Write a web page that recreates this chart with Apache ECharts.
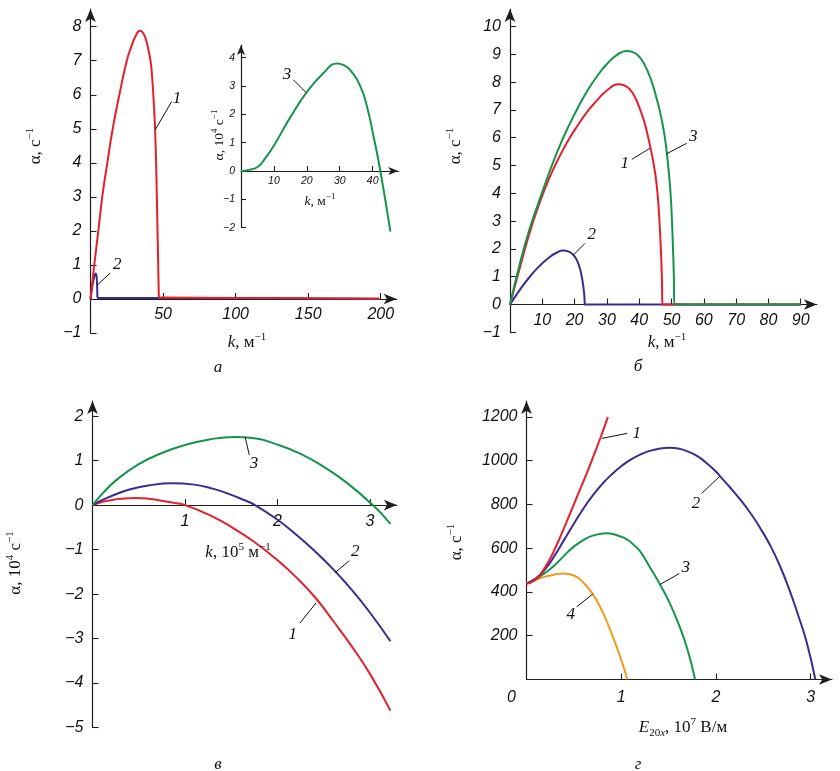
<!DOCTYPE html>
<html><head><meta charset="utf-8">
<script src="https://cdn.jsdelivr.net/npm/echarts@6/dist/echarts.min.js"></script>
<style>html,body{margin:0;padding:0;background:#fff}#c{width:840px;height:771px}</style>
</head><body><div id="c"></div>
<script>
// ---------- DATA ----------
// Panel а : k (м^-1) vs α (с^-1)
const a_curve1 = [[0,0],[1.2,0.45],[2.6,1],[5.4,2],[8.1,3],[11.6,4],[15.3,5],[19.9,6],[25,7],[28,7.4],[31,7.72],[34.1,7.88],[36,7.83],[38,7.65],[40,7.3],[41.5,6.95],[42.5,6.5],[43.3,6],[44,5.45],[44.5,5],[45.2,4],[45.7,3],[46.2,2],[46.65,1],[47,0.25],[47.2,0.04],[48,0.04],[100,0.03],[150,0.02],[199,0.01]];
const a_curve2 = [[0,0],[1,0.3],[2,0.55],[3,0.72],[3.6,0.75],[4.1,0.68],[4.5,0.45],[4.7,0.15],[4.8,0.03],[10,0.03],[100,0.02],[199,0.01]];
const a_xTicks = [50,100,150,200];
const a_yTicks = [-1,0,1,2,3,4,5,6,7,8];
// Inset : k (м^-1) vs α (10^4 с^-1)
const in_curve3 = [[0,0],[2.5,0.04],[5.1,0.15],[7.5,0.47],[10.1,0.92],[15.1,1.92],[20.1,2.8],[25,3.45],[29.2,3.8],[31,3.75],[33.2,3.56],[36.3,2.98],[38.3,2.27],[40.3,1.21],[42.35,0],[45.4,-2.14]];
const in_xTicks = [10,20,30,40];
const in_yTicks = [-2,-1,0,1,2,3,4];
// Panel б
const b_curve1 = [[0,0],[3,1.3],[6,2.55],[9,3.6],[12,4.5],[15,5.25],[18,5.9],[21,6.45],[24,6.95],[27,7.35],[30,7.7],[33.5,7.92],[36,7.85],[38,7.6],[40,7.1],[41.5,6.6],[42.8,6],[44,5.35],[44.7,4.9],[45.4,4.3],[46,3.5],[46.4,2.7],[46.8,1.7],[47.05,0.8],[47.2,0],[48,0],[90,0]];
const b_curve2 = [[0,0],[3,0.52],[6,0.98],[9,1.37],[12,1.68],[14.5,1.87],[16.5,1.94],[18,1.91],[19.3,1.82],[20.3,1.68],[21.2,1.45],[21.9,1.18],[22.4,0.88],[22.8,0.55],[23.05,0.25],[23.2,0],[24,0],[90,0]];
const b_curve3 = [[0,0],[3,1.45],[6,2.7],[9,3.72],[12,4.7],[15,5.6],[18,6.38],[21,7.08],[24,7.7],[27,8.22],[30,8.65],[33,8.97],[36.1,9.12],[38,9.08],[40,8.92],[42,8.55],[43.9,8],[45.3,7.45],[46.4,6.95],[47.3,6.45],[48,5.95],[48.6,5.4],[49.2,4.7],[49.7,4],[50.1,3.1],[50.4,2.2],[50.7,1.1],[50.9,0],[52,0],[90,0]];
const b_xTicks = [10,20,30,40,50,60,70,80,90];
const b_yTicks = [-1,0,1,2,3,4,5,6,7,8,9,10];
// Panel в : k (10^5 м^-1) vs α (10^4 с^-1)
const v_curve1 = [[0,0],[0.1,0.07],[0.2,0.11],[0.3,0.14],[0.46,0.16],[0.6,0.145],[0.75,0.1],[0.88,0.05],[1,0],[1.25,-0.21],[1.5,-0.49],[1.75,-0.83],[2,-1.24],[2.2,-1.62],[2.416,-2.1],[2.6,-2.6],[2.8,-3.17],[3,-3.8],[3.22,-4.62]];
const v_curve2 = [[0,0],[0.1,0.11],[0.2,0.2],[0.4,0.35],[0.6,0.44],[0.86,0.49],[1.1,0.46],[1.3,0.37],[1.5,0.23],[1.63,0.12],[1.756,0],[2,-0.33],[2.2,-0.66],[2.4,-1.03],[2.6,-1.44],[2.8,-1.9],[3,-2.42],[3.22,-3.06]];
const v_curve3 = [[0,0],[0.1,0.24],[0.25,0.55],[0.5,0.92],[0.75,1.17],[1,1.35],[1.25,1.47],[1.53,1.53],[1.75,1.5],[2,1.36],[2.25,1.15],[2.5,0.86],[2.75,0.5],[3.03,0],[3.22,-0.42]];
const v_xTicks = [1,2,3];
const v_yTicks = [-5,-4,-3,-2,-1,0,1,2];
// Panel г : E20x (10^7 В/м) vs α (с^-1)
const g_curve1 = [[0,438],[0.05,444],[0.1,458],[0.15,482],[0.2,515],[0.25,553],[0.3,597],[0.35,645],[0.4,696],[0.46,758],[0.55,852],[0.637,943],[0.7,1012],[0.78,1103],[0.859,1198]];
const g_curve2 = [[0,438],[0.1,462],[0.2,505],[0.3,568],[0.4,640],[0.5,711],[0.6,780],[0.7,841],[0.8,893],[0.9,937],[1,974],[1.1,1004],[1.2,1027],[1.3,1044],[1.4,1054],[1.515,1058],[1.6,1055],[1.7,1042],[1.8,1021],[1.9,989],[2,950],[2.043,929],[2.15,877],[2.26,820],[2.37,757],[2.47,690],[2.58,607],[2.68,515],[2.78,405],[2.86,305],[2.96,168],[3.05,0]];
const g_curve3 = [[0,438],[0.1,460],[0.2,488],[0.3,523],[0.4,567],[0.5,607],[0.6,637],[0.7,657],[0.848,668],[1,652],[1.07,637],[1.13,616],[1.2,585],[1.3,515],[1.41,434],[1.5,360],[1.6,260],[1.7,137],[1.78,0]];
const g_curve4 = [[0,438],[0.1,455],[0.2,470],[0.3,480],[0.39,484],[0.5,475],[0.6,443],[0.7,390],[0.8,312],[0.9,208],[1,90],[1.065,0]];
const g_xTicks = [1,2,3];
const g_xLabels = [0,1,2,3];
const g_yTicks = [200,400,600,800,1000,1200];
// Curve labels (data coordinates): grid, text, point on curve, leader end, text position
const curveLabels = [
  {g:0,t:'1',p1:[44.45,4.96],p2:[55.9,5.8],tp:[59.6,5.9]},
  {g:0,t:'2',p1:[4.69,0.41],p2:[13.4,0.755],tp:[18.5,1.0]},
  {g:1,t:'3',p1:[19.76,2.77],p2:[15.9,3.22],tp:[14.0,3.42]},
  {g:2,t:'1',p1:[43.3,5.62],p2:[37.7,5.22],tp:[35.5,5.06]},
  {g:2,t:'3',p1:[48.3,5.41],p2:[54.7,5.8],tp:[56.7,6.05]},
  {g:2,t:'2',p1:[19.6,1.78],p2:[23.2,2.2],tp:[25.3,2.5]},
  {g:3,t:'3',p1:[1.649,1.535],p2:[1.695,1.124],tp:[1.746,0.93]},
  {g:3,t:'2',p1:[2.62,-1.52],p2:[2.776,-1.25],tp:[2.84,-1.04]},
  {g:3,t:'1',p1:[2.416,-2.2],p2:[2.243,-2.65],tp:[2.164,-2.9]},
  {g:4,t:'1',p1:[0.794,1101],p2:[1.064,1124],tp:[1.164,1124]},
  {g:4,t:'2',p1:[2.043,929],p2:[1.85,850],tp:[1.79,805]},
  {g:4,t:'3',p1:[1.41,434],p2:[1.614,484],tp:[1.681,512]},
  {g:4,t:'4',p1:[0.699,390],p2:[0.53,332],tp:[0.467,295]}
];

// ---------- STYLE ----------
const SANS = "'Liberation Sans', Arial, sans-serif";
const SERIF = "'Liberation Serif', 'Times New Roman', serif";
const AX = '#1e1e1e';
const TXT = '#111';
const COL = {red:'#e3202b', blue:'#3b2c8d', green:'#15954b', orange:'#f29a1f'};
const FS = 16;

const chart = echarts.init(document.getElementById('c'));

const grids = [
  {left:90.5, top:9, width:306.2, height:324},
  {left:241, top:45, width:157.3, height:182.6},
  {left:510, top:9, width:306.9, height:323.3},
  {left:92.5, top:401, width:304.4, height:326.5},
  {left:526.5, top:401, width:305.5, height:278.5}
];
const yRanges = [[-1,8.52],[-2,4.45],[-1,10.63],[-5,2.34],[0,1272]];
function fmt(v){ return (v < 0 ? '\u2212' : '') + Math.abs(v); }

function axis(i, min, max, ticks, labels, fs, arrow, tickLen, margin, offset, formatter, rich){
  return {
    type:'value', gridIndex:i, min:min, max:max, offset:offset,
    axisLine:{show:true, onZero:false, symbol:['none','arrow'], symbolSize:arrow, lineStyle:{color:AX, width:1.2}},
    axisTick:{show:true, inside:true, length:tickLen, customValues:ticks, lineStyle:{color:AX, width:1.1}},
    axisLabel:{show:true, customValues:labels, formatter:formatter || fmt, rich:rich,
      fontFamily:SANS, fontStyle:'italic', fontSize:fs, color:TXT, margin:margin},
    splitLine:{show:false}
  };
}
// x axes sit on the line α = 0
function zeroOffset(i){ const r = yRanges[i]; return -grids[i].height * (0 - r[0]) / (r[1] - r[0]); }

const xAxes = [
  axis(0, 0, 211, a_xTicks, a_xTicks, FS, [8,13], 6, 8, zeroOffset(0)),
  axis(1, 0, 47.8, in_xTicks, in_xTicks, 10.5, [6,10], 5, 5, zeroOffset(1)),
  axis(2, 0, 95, b_xTicks, b_xTicks, FS, [8,13], 6, 8, zeroOffset(2)),
  axis(3, 0, 3.29, v_xTicks, v_xTicks, FS, [8,13], 6, 8, zeroOffset(3)),
  axis(4, 0, 3.226, g_xTicks, g_xLabels, FS, [8,13], 6, 10, zeroOffset(4),
    function(v){ return v === 0 ? '{o|0}' : fmt(v); },
    {o:{fontFamily:SANS, fontStyle:'italic', fontSize:FS, color:TXT, padding:[0,30,0,0]}})
];
const yAxes = [0,1,2,3,4].map(function(i){
  const t = [a_yTicks, in_yTicks, b_yTicks, v_yTicks, g_yTicks][i];
  const small = i === 1;
  return axis(i, yRanges[i][0], yRanges[i][1], t, t, small ? 10.5 : FS, small ? [6,10] : [8,13], small ? 5 : 6, small ? 6 : 9, 0);
});

function line(i, data, color, z, clip){
  return {type:'line', xAxisIndex:i, yAxisIndex:i, data:data, showSymbol:false, symbol:'none',
    smooth:0.5, clip: clip !== false, z:z, silent:true,
    lineStyle:{color:color, width:2}, itemStyle:{color:color}};
}
const series = [
  line(0, a_curve2, COL.blue, 2), line(0, a_curve1, COL.red, 3),
  line(1, in_curve3, COL.green, 2, false),
  line(2, b_curve2, COL.blue, 2), line(2, b_curve1, COL.red, 3), line(2, b_curve3, COL.green, 4),
  line(3, v_curve1, COL.red, 2), line(3, v_curve2, COL.blue, 3), line(3, v_curve3, COL.green, 4),
  line(4, g_curve4, COL.orange, 2), line(4, g_curve3, COL.green, 3), line(4, g_curve2, COL.blue, 4), line(4, g_curve1, COL.red, 5)
];

chart.setOption({animation:false, backgroundColor:'#fff', grid:grids, xAxis:xAxes, yAxis:yAxes, series:series});

// ---------- TEXT (titles, captions, curve labels) ----------
const R = {
  b:{fontFamily:SERIF, fontSize:17, lineHeight:22, color:TXT},
  i:{fontFamily:SERIF, fontStyle:'italic', fontSize:17, lineHeight:22, color:TXT},
  s:{fontFamily:SERIF, fontSize:11, lineHeight:9, verticalAlign:'top', color:TXT},
  sub:{fontFamily:SERIF, fontSize:11, lineHeight:9, verticalAlign:'bottom', color:TXT},
  subi:{fontFamily:SERIF, fontStyle:'italic', fontSize:11, lineHeight:9, verticalAlign:'bottom', color:TXT}
};
const Rs = {
  b:{fontFamily:SERIF, fontSize:13.5, lineHeight:18, color:TXT},
  i:{fontFamily:SERIF, fontStyle:'italic', fontSize:13.5, lineHeight:18, color:TXT},
  s:{fontFamily:SERIF, fontSize:9, lineHeight:7, verticalAlign:'top', color:TXT}
};
function txt(x, y, text, rich, rot){
  return {type:'text', x:x, y:y, rotation:rot || 0, silent:true, z:20,
    style:{text:text, rich:rich, align:'center', verticalAlign:'middle', fill:TXT}};
}
const titles = [
  txt(36, 146, '{b|α, с}{s|\u22121}', R, Math.PI/2),
  txt(247, 343, '{i|k}{b|, м}{s|\u22121}', R),
  txt(219, 135, '{b|α, 10}{s|4}{b| с}{s|\u22121}', Rs, Math.PI/2),
  txt(320, 201, '{i|k}{b|, м}{s|\u22121}', Rs),
  txt(456, 146, '{b|α, с}{s|\u22121}', R, Math.PI/2),
  txt(667, 343, '{i|k}{b|, м}{s|\u22121}', R),
  txt(16, 563, '{b|α, 10}{s|4}{b| с}{s|\u22121}', R, Math.PI/2),
  txt(238, 553, '{i|k}{b|, 10}{s|5}{b| м}{s|\u22121}', R),
  txt(457, 542, '{b|α, с}{s|\u22121}', R, Math.PI/2),
  txt(683, 728, '{i|E}{sub|20}{subi|x}{b|, 10}{s|7}{b| В/м}', R),
  txt(218, 368, '{i|а}', R), txt(638, 367, '{i|б}', R),
  txt(218, 765, '{i|в}', R), txt(638, 765, '{i|г}', R)
];
const marks = [];
curveLabels.forEach(function(c){
  const p1 = chart.convertToPixel({gridIndex:c.g}, c.p1);
  const p2 = chart.convertToPixel({gridIndex:c.g}, c.p2);
  const tp = chart.convertToPixel({gridIndex:c.g}, c.tp);
  marks.push({type:'line', silent:true, z:20, shape:{x1:p1[0], y1:p1[1], x2:p2[0], y2:p2[1]}, style:{stroke:TXT, lineWidth:1}});
  marks.push(txt(tp[0], tp[1], '{i|' + c.t + '}', R));
});
chart.setOption({graphic:titles.concat(marks)});
</script>
</body></html>
